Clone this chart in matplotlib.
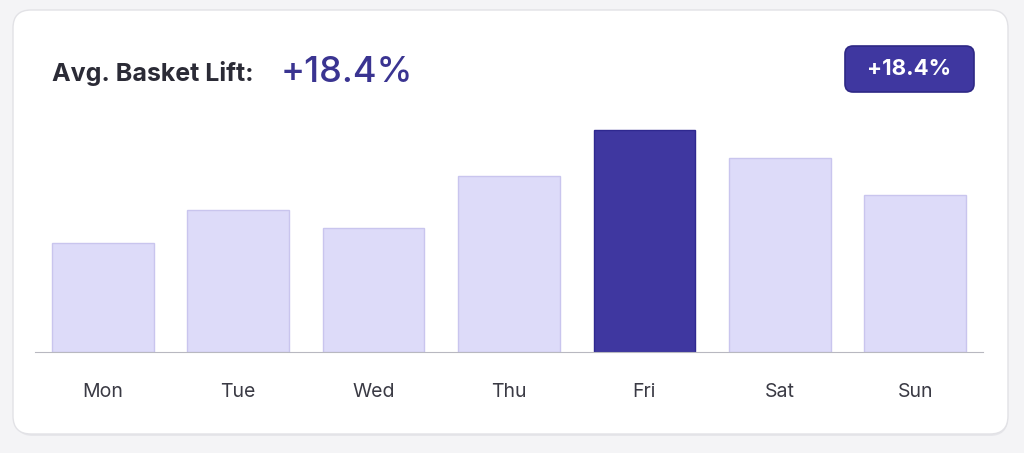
import matplotlib.pyplot as plt
from matplotlib.patches import FancyBboxPatch

days = ['Mon', 'Tue', 'Wed', 'Thu', 'Fri', 'Sat', 'Sun']
lift = [109, 142, 124, 176, 222, 194, 157]
highlight = 'Fri'
headline = '+18.4%'

W, H = 1024, 453
fig = plt.figure(figsize=(W / 100, H / 100), dpi=100)
fig.patch.set_facecolor('#f4f4f6')

# card background
bg = fig.add_axes([0, 0, 1, 1])
bg.set_xlim(0, W)
bg.set_ylim(H, 0)
bg.axis('off')
bg.add_patch(FancyBboxPatch((15, 12), 993, 424, boxstyle='round,pad=0,rounding_size=18',
                            facecolor='#e6e6ea', edgecolor='none'))
bg.add_patch(FancyBboxPatch((13, 10), 995, 424, boxstyle='round,pad=0,rounding_size=18',
                            facecolor='white', edgecolor='#e2e2e6', linewidth=1))

# title
bg.text(52, 74, 'Avg. Basket Lift:', fontsize=18, fontweight='bold', color='#2b2b36',
        va='center', family='Inter')
bg.text(281, 72, headline, fontsize=26, fontweight='medium', color='#3a3491',
        va='center', family='Inter')

# badge
bg.add_patch(FancyBboxPatch((845, 46), 129, 46, boxstyle='round,pad=0,rounding_size=8',
                            facecolor='#3f37a0', edgecolor='#2e2885', linewidth=1.2))
bg.text(909.5, 69, headline, fontsize=16, fontweight='bold', color='white',
        ha='center', va='center', family='Inter')

# bars
ax = fig.add_axes([35 / W, 101 / H, 948 / W, 250 / H])
ax.patch.set_alpha(0)
colors = ['#3f37a0' if d == highlight else '#dddbf9' for d in days]
edges = ['#2f2890' if d == highlight else '#c9c5ee' for d in days]
ax.bar(range(len(days)), lift, width=0.75, color=colors, edgecolor=edges, linewidth=1)
ax.set_xlim(-0.5, 6.5)
ax.set_ylim(0, 250)
ax.set_yticks([])
ax.set_xticks(range(len(days)))
ax.set_xticklabels(days, fontsize=14, color='#3a3a44', family='Inter')
ax.tick_params(axis='x', length=0, pad=22)
for s in ['top', 'right', 'left']:
    ax.spines[s].set_visible(False)
ax.spines['bottom'].set_color('#b8b8c0')

fig.savefig('out.png', dpi=100)
